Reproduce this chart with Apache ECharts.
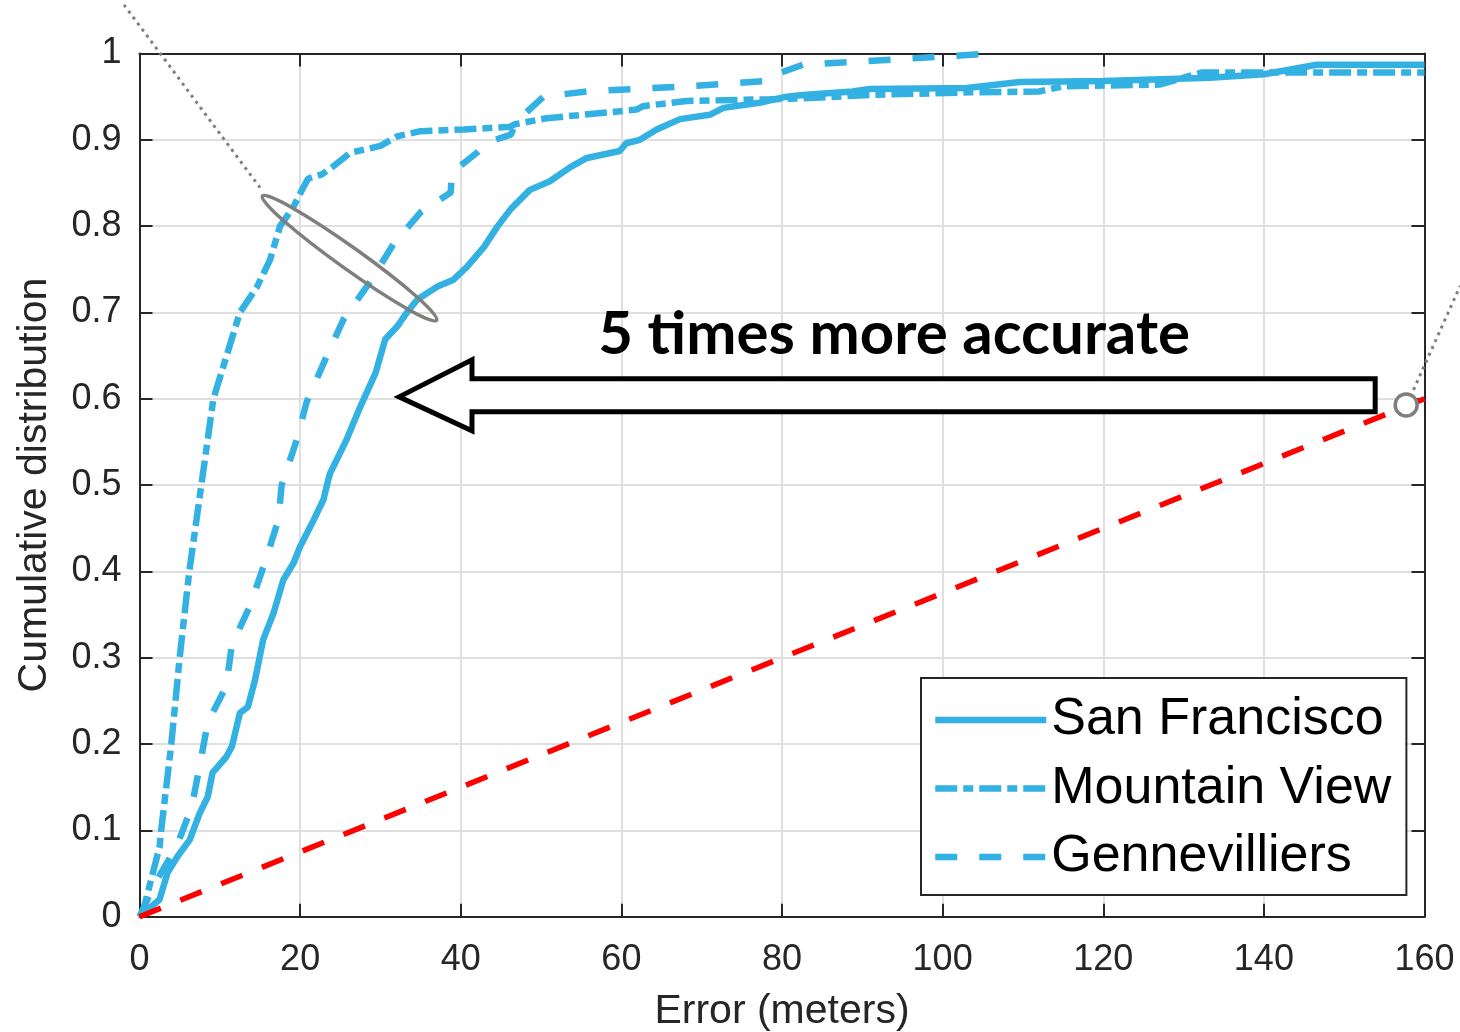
<!DOCTYPE html>
<html>
<head>
<meta charset="utf-8">
<script src="https://cdn.jsdelivr.net/npm/echarts@6/dist/echarts.min.js"></script>
<style>
  html, body { margin: 0; padding: 0; background: #fff; }
  #chart { width: 1460px; height: 1032px; }
</style>
</head>
<body>
<div id="chart"></div>
<script>
// ticks
const xTicks = [0, 20, 40, 60, 80, 100, 120, 140, 160];
const yTickLabels = ['0', '0.1', '0.2', '0.3', '0.4', '0.5', '0.6', '0.7', '0.8', '0.9', '1'];

// San Francisco (solid)
const sfX = [0, 2.5, 3.5, 4.75, 6.25, 7.5, 8.5, 9.1, 10.8, 11.5, 12.5, 13.5, 14.4, 15.4, 16.7, 17.9, 19.2, 20, 21.5, 22.9, 23.5, 23.75, 25.8, 27.5, 29.4, 30.6, 32.1, 33.3, 34.6, 37.1, 39.1, 40.8, 42.9, 44.6, 46.25, 48.6, 51.1, 53.6, 55.7, 59.8, 60.6, 62.3, 64.4, 67.3, 71, 72.7, 77.2, 80.6, 82.6, 88.8, 90.9, 103, 109.6, 120, 126.2, 133.3, 140, 146.6, 160];
const sfY = [0, 0.02, 0.051, 0.07, 0.089, 0.12, 0.139, 0.167, 0.185, 0.197, 0.236, 0.243, 0.275, 0.321, 0.352, 0.39, 0.41, 0.429, 0.456, 0.483, 0.506, 0.514, 0.553, 0.591, 0.63, 0.669, 0.684, 0.7, 0.715, 0.73, 0.738, 0.753, 0.776, 0.8, 0.82, 0.842, 0.852, 0.868, 0.879, 0.887, 0.896, 0.9, 0.912, 0.924, 0.929, 0.937, 0.943, 0.95, 0.952, 0.956, 0.959, 0.96, 0.967, 0.968, 0.97, 0.972, 0.976, 0.987, 0.987];

// Mountain View (dash-dot)
const mvX = [0, 0.4, 2.5, 2.7, 3.96, 5, 6.2, 7.7, 9.2, 12.5, 14.6, 16.25, 17.5, 19.15, 20.4, 21, 22.7, 24.1, 26.25, 30, 32.1, 35, 40.4, 46.1, 46.7, 50.7, 61.9, 62.7, 68.1, 78.5, 82.6, 90.9, 103.4, 112, 115, 127, 132.3, 139.5, 160];
const mvY = [0, 0.005, 0.081, 0.1, 0.2, 0.3, 0.4, 0.5, 0.6, 0.7, 0.729, 0.761, 0.8, 0.822, 0.845, 0.855, 0.86, 0.869, 0.885, 0.893, 0.904, 0.91, 0.912, 0.915, 0.918, 0.925, 0.935, 0.939, 0.945, 0.947, 0.948, 0.952, 0.955, 0.956, 0.962, 0.964, 0.978, 0.978, 0.978];

// Gennevilliers (dashed)
const genX = [0, 2, 4.6, 6.5, 7.5, 8.5, 10.8, 11.5, 13.75, 15.6, 17.3, 17.7, 19.6, 20.8, 23.3, 25.4, 28.75, 31.6, 35, 38.75, 38.9, 42, 43.3, 46.25, 46.9, 50.3, 55.7, 68.1, 77.7, 78.7, 82.6, 99.3, 105.9];
const genY = [0, 0.04, 0.081, 0.127, 0.175, 0.225, 0.267, 0.315, 0.36, 0.41, 0.46, 0.5, 0.553, 0.596, 0.649, 0.692, 0.736, 0.779, 0.816, 0.839, 0.862, 0.885, 0.897, 0.906, 0.921, 0.95, 0.956, 0.962, 0.968, 0.974, 0.987, 0.996, 1.0];

// reference line (red dashed)
const refX = [0, 160];
const refY = [0, 0.6];

// annotations, in data units
const arrowPts = [[32.32, 0.6022], [41.4, 0.6451], [41.4, 0.6231], [153.86, 0.6231], [153.86, 0.5849], [41.4, 0.5849], [41.4, 0.5629]];
const ellipseCenter = [26.15, 0.7629];
const circleCenter = [157.72, 0.5929];
const dotLeft = [[-1.93, 1.0564], [15.13, 0.8431]];
const dotRight = [[158.63, 0.6103], [164.44, 0.7308]];
const noteText = '5 times more accurate';
const notePos = [93.96, 0.674];

const blue = '#33b1e2';
const axisColor = '#262626';
const font = 'Liberation Sans, Arial, sans-serif';

function pairs(xs, ys) {
    return xs.map((x, i) => [x, ys[i]]);
}

const chart = echarts.init(document.getElementById('chart'));

const baseX = {
    type: 'value', min: 0, max: 160, interval: 20,
    axisLine: { show: true, onZero: false, lineStyle: { color: axisColor, width: 2 } },
    axisTick: { show: true, inside: true, length: 13, lineStyle: { color: axisColor, width: 2 } }
};
const baseY = {
    type: 'value', min: 0, max: 1, interval: 0.1,
    axisLine: { show: true, onZero: false, lineStyle: { color: axisColor, width: 2 } },
    axisTick: { show: true, inside: true, length: 13, lineStyle: { color: axisColor, width: 2 } }
};

const option = {
    animation: false,
    backgroundColor: '#fff',
    grid: {
        left: 139.5, right: 35.5, top: 53.5, bottom: 115.3,
        containLabel: false, outerBoundsMode: 'none'
    },
    xAxis: [
        Object.assign({}, baseX, {
            position: 'bottom',
            name: 'Error (meters)', nameLocation: 'middle', nameGap: 74,
            nameTextStyle: { fontSize: 41, color: axisColor, fontFamily: font },
            axisLabel: { fontSize: 36, color: axisColor, fontFamily: font, margin: 25 },
            splitLine: { show: true, lineStyle: { color: '#dfdfdf', width: 2 } }
        }),
        Object.assign({}, baseX, {
            position: 'top',
            axisLabel: { show: false },
            splitLine: { show: false }
        })
    ],
    yAxis: [
        Object.assign({}, baseY, {
            position: 'left',
            name: 'Cumulative distribution', nameLocation: 'middle', nameGap: 84,
            nameTextStyle: { fontSize: 41, color: axisColor, fontFamily: font },
            axisLabel: {
                fontSize: 36, color: axisColor, fontFamily: font, margin: 18,
                formatter: (v, i) => yTickLabels[i]
            },
            splitLine: { show: true, lineStyle: { color: '#dfdfdf', width: 2 } }
        }),
        Object.assign({}, baseY, {
            position: 'right',
            axisLabel: { show: false },
            splitLine: { show: false }
        })
    ],
    legend: {
        orient: 'vertical',
        left: 921, top: 678,
        itemWidth: 111, itemHeight: 24, itemGap: 16.5, itemTextGap: 10,
        padding: [16, 15, 12, 11],
        backgroundColor: '#fff',
        borderColor: axisColor, borderWidth: 2, borderRadius: 0,
        itemStyle: { opacity: 0 },
        lineStyle: { width: 6.5 },
        textStyle: { fontSize: 52, color: '#000', fontFamily: font },
        data: ['San Francisco', 'Mountain View', 'Gennevilliers']
    },
    series: [
        {
            name: 'San Francisco', type: 'line', symbol: 'none', data: pairs(sfX, sfY),
            lineStyle: { color: blue, width: 6.5, type: 'solid' }, itemStyle: { color: blue }
        },
        {
            name: 'Mountain View', type: 'line', symbol: 'none', data: pairs(mvX, mvY),
            lineStyle: { color: blue, width: 6.5, type: [22, 6, 10, 6] }, itemStyle: { color: blue }
        },
        {
            name: 'Gennevilliers', type: 'line', symbol: 'none', data: pairs(genX, genY),
            lineStyle: { color: blue, width: 6.5, type: [22, 22] }, itemStyle: { color: blue }
        },
        {
            name: 'reference', type: 'line', symbol: 'none', data: pairs(refX, refY),
            lineStyle: { color: '#ff0000', width: 5.5, type: [23, 21] }, itemStyle: { color: '#ff0000' }
        }
    ]
};

chart.setOption(option);

// annotations placed through the axis scales
function px(p) {
    return chart.convertToPixel({ xAxisIndex: 0, yAxisIndex: 0 }, p);
}
const ec = px(ellipseCenter);
const cc = px(circleCenter);
const np = px(notePos);
const dl = dotLeft.map(px);
const dr = dotRight.map(px);

chart.setOption({
    graphic: [
        {
            type: 'polygon', z: 100,
            shape: { points: arrowPts.map(px) },
            style: { fill: '#fff', stroke: '#000', lineWidth: 5, lineJoin: 'miter' }
        },
        {
            type: 'text', z: 100, x: np[0], y: np[1],
            style: {
                text: noteText, fill: '#000',
                fontSize: 60, fontWeight: 'bold', fontFamily: 'Lato, Open Sans, sans-serif',
                align: 'center', verticalAlign: 'middle',
                textAlign: 'center', textVerticalAlign: 'middle'
            }
        },
        {
            type: 'ellipse', z: 100, x: ec[0], y: ec[1], rotation: -35.5 * Math.PI / 180,
            shape: { cx: 0, cy: 0, rx: 107, ry: 11 },
            style: { fill: 'none', stroke: '#7f7f7f', lineWidth: 3.5 }
        },
        {
            type: 'circle', z: 100,
            shape: { cx: cc[0], cy: cc[1], r: 11 },
            style: { fill: '#fff', stroke: '#7f7f7f', lineWidth: 3.5 }
        },
        {
            type: 'line', z: 100,
            shape: { x1: dl[0][0], y1: dl[0][1], x2: dl[1][0], y2: dl[1][1] },
            style: { stroke: '#7f7f7f', lineWidth: 3, lineDash: [3, 4.5] }
        },
        {
            type: 'line', z: 100,
            shape: { x1: dr[0][0], y1: dr[0][1], x2: dr[1][0], y2: dr[1][1] },
            style: { stroke: '#7f7f7f', lineWidth: 3, lineDash: [3, 4.5] }
        }
    ]
});
</script>
</body>
</html>
